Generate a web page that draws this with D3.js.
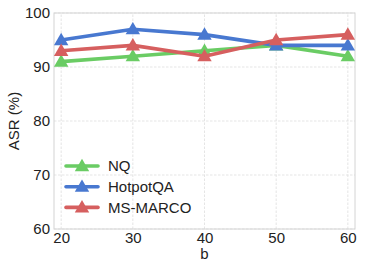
<!DOCTYPE html>
<html>
<head>
<meta charset="utf-8">
<script src="https://cdn.jsdelivr.net/npm/d3@7"></script>
<style>
  body { margin: 0; background: #fff; }
  svg { font-family: "Liberation Sans", Arial, sans-serif; }
</style>
</head>
<body>
<div id="vis"></div>
<script>
const width = 365;
const height = 272;

// Data
const bValues = [20, 30, 40, 50, 60];
const nqValues = [91, 92, 93, 94, 92];
const hotpotValues = [95, 97, 96, 94, 94];
const msmarcoValues = [93, 94, 92, 95, 96];
const seriesNames = ["NQ", "HotpotQA", "MS-MARCO"];
const seriesColors = ["#6acc64", "#4878d0", "#d65f5f"];
const yTicks = [60, 70, 80, 90, 100];

const series = [nqValues, hotpotValues, msmarcoValues].map((vals, i) => ({
    name: seriesNames[i],
    color: seriesColors[i],
    points: vals.map((v, j) => ({ b: bValues[j], v: v }))
}));

const margin = { top: 13, right: 10, bottom: 43, left: 54 };
const fontSize = 15;

const x = d3.scaleLinear()
    .domain([19, 61])
    .range([margin.left, width - margin.right]);

const y = d3.scaleLinear()
    .domain([60, 100])
    .range([height - margin.bottom, margin.top]);

const svg = d3.select("#vis").append("svg")
    .attr("width", width)
    .attr("height", height);

// grid
svg.append("g")
    .selectAll("line")
    .data(bValues)
    .join("line")
    .attr("x1", d => x(d)).attr("x2", d => x(d))
    .attr("y1", y(60)).attr("y2", y(100))
    .attr("stroke", "#dedede")
    .attr("stroke-width", 0.8)
    .attr("stroke-dasharray", "2.5,1.5");

svg.append("g")
    .selectAll("line")
    .data(yTicks)
    .join("line")
    .attr("x1", x(19)).attr("x2", x(61))
    .attr("y1", d => y(d)).attr("y2", d => y(d))
    .attr("stroke", "#dedede")
    .attr("stroke-width", 0.8)
    .attr("stroke-dasharray", "2.5,1.5");

// frame
svg.append("rect")
    .attr("x", x(19))
    .attr("y", y(100))
    .attr("width", x(61) - x(19))
    .attr("height", y(60) - y(100))
    .attr("fill", "none")
    .attr("stroke", "#d4d4d4")
    .attr("stroke-width", 1);

// axes (labels only)
const xAxis = svg.append("g")
    .attr("transform", `translate(0,${y(60)})`)
    .call(d3.axisBottom(x).tickValues(bValues).tickSize(0).tickPadding(3));
xAxis.select(".domain").remove();
xAxis.selectAll("text")
    .attr("font-size", fontSize)
    .attr("fill", "#222")
    .style("font-family", "Liberation Sans, Arial, sans-serif");

const yAxis = svg.append("g")
    .attr("transform", `translate(${x(19)},0)`)
    .call(d3.axisLeft(y).tickValues(yTicks).tickSize(0).tickPadding(4));
yAxis.select(".domain").remove();
yAxis.selectAll("text")
    .attr("font-size", fontSize)
    .attr("fill", "#222")
    .style("font-family", "Liberation Sans, Arial, sans-serif");

svg.append("text")
    .attr("x", (x(19) + x(61)) / 2)
    .attr("y", 259)
    .attr("text-anchor", "middle")
    .attr("font-size", fontSize)
    .attr("fill", "#222")
    .text("b");

svg.append("text")
    .attr("transform", `translate(19,${(y(60) + y(100)) / 2}) rotate(-90)`)
    .attr("text-anchor", "middle")
    .attr("font-size", fontSize)
    .attr("fill", "#222")
    .text("ASR (%)");

// lines
const line = d3.line()
    .x(d => x(d.b))
    .y(d => y(d.v));

const tri = d3.symbol().type(d3.symbolTriangle).size(90);

series.forEach(s => {
    const g = svg.append("g");
    g.append("path")
        .datum(s.points)
        .attr("d", line)
        .attr("fill", "none")
        .attr("stroke", s.color)
        .attr("stroke-width", 3.6)
        .attr("stroke-linejoin", "round");
    g.selectAll("path.marker")
        .data(s.points)
        .join("path")
        .attr("class", "marker")
        .attr("d", tri)
        .attr("transform", d => `translate(${x(d.b)},${y(d.v) + 1})`)
        .attr("fill", s.color);
});

// legend
const legend = svg.append("g")
    .attr("transform", "translate(66,166)");

series.forEach((s, i) => {
    const row = legend.append("g").attr("transform", `translate(0,${i * 20.7})`);
    row.append("line")
        .attr("x1", 0).attr("x2", 32)
        .attr("y1", 0).attr("y2", 0)
        .attr("stroke", s.color)
        .attr("stroke-width", 3.6)
        .attr("stroke-linecap", "round");
    row.append("path")
        .attr("d", tri)
        .attr("transform", "translate(16,1)")
        .attr("fill", s.color);
    row.append("text")
        .attr("x", 42)
        .attr("y", 0)
        .attr("dy", "0.35em")
        .attr("font-size", fontSize)
        .attr("fill", "#222")
        .text(s.name);
});
</script>
</body>
</html>
